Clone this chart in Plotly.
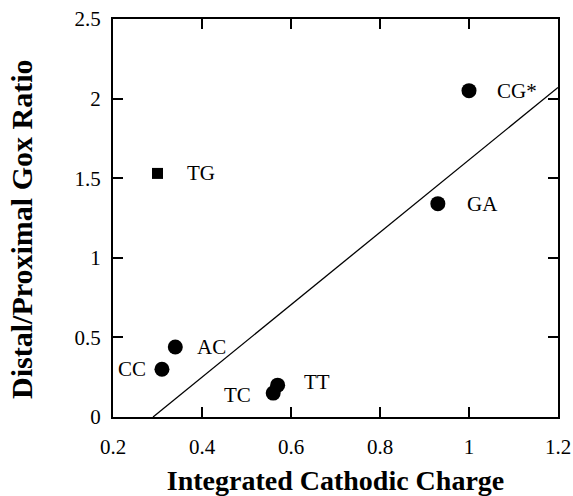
import plotly.graph_objects as go

# data
circle_labels = ["CG*", "GA", "AC", "CC", "TT", "TC"]
circle_x = [1.0, 0.93, 0.34, 0.31, 0.57, 0.56]
circle_y = [2.05, 1.34, 0.44, 0.30, 0.20, 0.15]
square_labels = ["TG"]
square_x = [0.30]
square_y = [1.53]
fit_x = [0.29, 1.2]
fit_y = [0.0, 2.07]

# label offsets (pixels)
label_dx = {"CG*": 26, "GA": 27, "AC": 20, "CC": -14, "TT": 24, "TC": -20, "TG": 27}
label_dy = {"CG*": 0, "GA": 0, "AC": 0, "CC": 0, "TT": 3, "TC": -2, "TG": 0}

font = "Liberation Serif, Times New Roman, serif"

fig = go.Figure()
fig.add_trace(go.Scatter(x=fit_x, y=fit_y, mode="lines",
                         line=dict(color="black", width=1.3), hoverinfo="skip"))
fig.add_trace(go.Scatter(x=circle_x, y=circle_y, mode="markers",
                         marker=dict(symbol="circle", size=15, color="black")))
fig.add_trace(go.Scatter(x=square_x, y=square_y, mode="markers",
                         marker=dict(symbol="square", size=11, color="black")))

for lab, x, y in list(zip(circle_labels, circle_x, circle_y)) + list(zip(square_labels, square_x, square_y)):
    dx = label_dx[lab]
    fig.add_annotation(x=x, y=y, text=lab, showarrow=False,
                       xanchor="left" if dx > 0 else "right",
                       xshift=dx, yshift=label_dy[lab],
                       font=dict(family=font, size=21, color="black"))

axis_common = dict(showline=True, linecolor="black", linewidth=2, mirror="allticks",
                   ticks="inside", ticklen=10, tickwidth=1.5, tickcolor="black",
                   showgrid=False, zeroline=False, automargin=False,
                   tickfont=dict(family=font, size=21, color="black"))

fig.update_xaxes(range=[0.2, 1.2], tickvals=[0.2, 0.4, 0.6, 0.8, 1.0, 1.2],
                 ticktext=["0.2", "0.4", "0.6", "0.8", "1", "1.2"],
                 ticklabelstandoff=10,
                 title=dict(text="<b>Integrated Cathodic Charge</b>",
                            font=dict(family=font, size=28, color="black"), standoff=15),
                 **axis_common)
fig.update_yaxes(range=[0, 2.5], tickvals=[0, 0.5, 1, 1.5, 2, 2.5],
                 ticktext=["0", "0.5", "1", "1.5", "2", "2.5"],
                 ticklabelstandoff=6,
                 **axis_common)

# y-axis title placed as a rotated annotation (centered slightly below plot middle, as in reference)
fig.add_annotation(text="<b>Distal/Proximal Gox Ratio</b>", xref="paper", yref="paper",
                   x=0, y=0.47, xshift=-91, showarrow=False, textangle=-90,
                   xanchor="center", yanchor="middle",
                   font=dict(family=font, size=30, color="black"))

fig.update_layout(width=573, height=496, showlegend=False,
                  margin=dict(l=113, r=15, t=19, b=79),
                  paper_bgcolor="white", plot_bgcolor="white")

fig.write_html("out.html")
